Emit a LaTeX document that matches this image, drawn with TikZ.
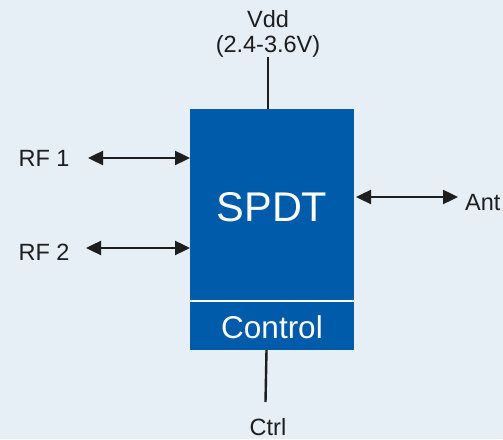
\documentclass[tikz,border=0pt]{standalone}
\usepackage{fontspec}
\setmainfont{Liberation Sans}
\usetikzlibrary{arrows.meta}
\definecolor{bgblue}{HTML}{E6EEF6}
\definecolor{chipblue}{HTML}{005BAA}
\definecolor{ink}{HTML}{1E1E1E}
\begin{document}
\begin{tikzpicture}[x=1pt,y=1pt,label/.style={text=ink,font=\fontsize{23.5}{28}\selectfont,inner sep=0pt},biarrow/.style={ink,line width=2.4pt,{Triangle[length=15pt,width=14pt]}-{Triangle[length=15pt,width=14pt]}},wire/.style={ink,line width=2.4pt},chip/.style={fill=chipblue,draw=none}]
\def\boxl{190};
\def\boxr{354};
\def\boxt{330};
\def\boxb{89};
\def\divy{138};

\fill[bgblue] (0,0) rectangle (503,439);
\useasboundingbox (0,0) rectangle (503,439);

% chip body
\fill[chip] (\boxl,\boxb) rectangle (\boxr,\boxt);
\draw[white,line width=2pt] (\boxl,\divy) -- (\boxr,\divy);
\node[text=white,font=\fontsize{41.5}{48}\selectfont,inner sep=0pt] (spdt) at (272,232) {SPDT};
\node[text=white,font=\fontsize{31.5}{36}\selectfont,inner sep=0pt] (ctl) at (272,112) {Control};

% supply
\node[label] (vdd) at (268,420) {Vdd};
\node[label] (vrange) at (268,393) {(2.4-3.6V)};
\coordinate (vtop) at (268,382);
\coordinate (vbot) at (268,\boxt);
\draw[wire] (vtop) -- (vbot);

% control input
\node[label] (ctrl) at (268,12) {Ctrl};
\coordinate (ctop) at (266.5,\boxb);
\coordinate (cbot) at (265.5,37);
\draw[wire] (ctop) -- (cbot);

% RF ports
\node[label] (rf1) at (44,281) {RF 1};
\coordinate (rf1a) at (88,281);
\coordinate (rf1b) at (\boxl,281);
\draw[biarrow] (rf1a) -- (rf1b);

\node[label] (rf2) at (44,187) {RF 2};
\coordinate (rf2a) at (86,191);
\coordinate (rf2b) at (\boxl,191);
\draw[biarrow] (rf2a) -- (rf2b);

% antenna
\node[label,anchor=west] (ant) at (465,236) {Ant};
\coordinate (anta) at (356,242);
\coordinate (antb) at (458,242);
\draw[biarrow] (anta) -- (antb);
\end{tikzpicture}
\end{document}
